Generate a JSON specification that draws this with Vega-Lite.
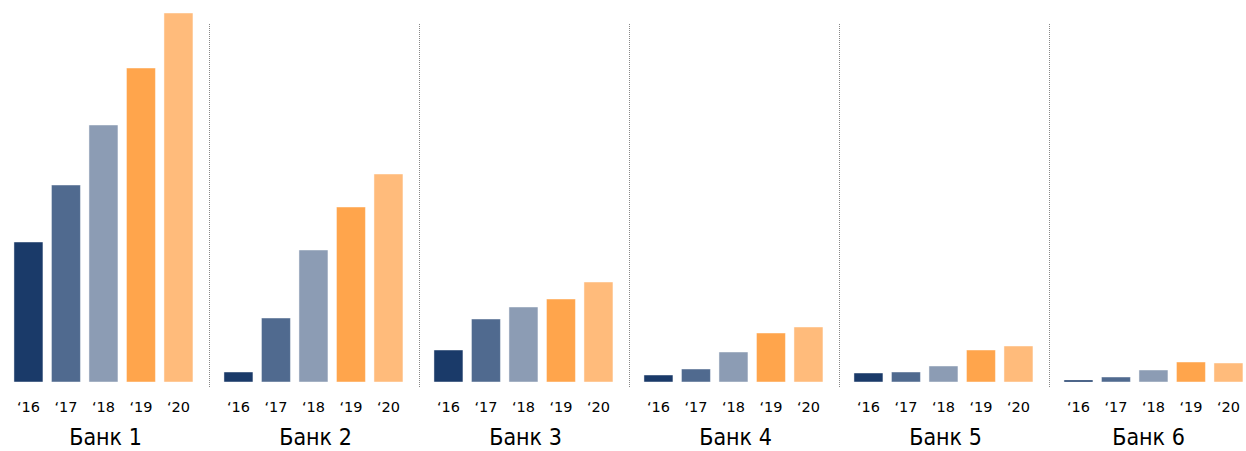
{
  "$schema": "https://vega.github.io/schema/vega-lite/v6.json",
  "padding": 0,
  "background": "white",
  "spacing": 0,
  "bounds": "flush",
  "data": {"values": [
    {"bank": "Банк 1", "year": "‘16", "value": 140},
    {"bank": "Банк 1", "year": "‘17", "value": 197},
    {"bank": "Банк 1", "year": "‘18", "value": 257},
    {"bank": "Банк 1", "year": "‘19", "value": 314},
    {"bank": "Банк 1", "year": "‘20", "value": 369},
    {"bank": "Банк 2", "year": "‘16", "value": 10},
    {"bank": "Банк 2", "year": "‘17", "value": 64},
    {"bank": "Банк 2", "year": "‘18", "value": 132},
    {"bank": "Банк 2", "year": "‘19", "value": 175},
    {"bank": "Банк 2", "year": "‘20", "value": 208},
    {"bank": "Банк 3", "year": "‘16", "value": 32},
    {"bank": "Банк 3", "year": "‘17", "value": 63},
    {"bank": "Банк 3", "year": "‘18", "value": 75},
    {"bank": "Банк 3", "year": "‘19", "value": 83},
    {"bank": "Банк 3", "year": "‘20", "value": 100},
    {"bank": "Банк 4", "year": "‘16", "value": 7},
    {"bank": "Банк 4", "year": "‘17", "value": 13},
    {"bank": "Банк 4", "year": "‘18", "value": 30},
    {"bank": "Банк 4", "year": "‘19", "value": 49},
    {"bank": "Банк 4", "year": "‘20", "value": 55},
    {"bank": "Банк 5", "year": "‘16", "value": 9},
    {"bank": "Банк 5", "year": "‘17", "value": 10},
    {"bank": "Банк 5", "year": "‘18", "value": 16},
    {"bank": "Банк 5", "year": "‘19", "value": 32},
    {"bank": "Банк 5", "year": "‘20", "value": 36},
    {"bank": "Банк 6", "year": "‘16", "value": 2},
    {"bank": "Банк 6", "year": "‘17", "value": 5},
    {"bank": "Банк 6", "year": "‘18", "value": 12},
    {"bank": "Банк 6", "year": "‘19", "value": 20},
    {"bank": "Банк 6", "year": "‘20", "value": 19}
  ]},
  "hconcat": [
    {
      "width": 210, "height": 382,
      "layer": [
        {
          "transform": [{"filter": "datum.bank == 'Банк 1'"}],
          "mark": {"type": "bar", "stroke": "white", "strokeOpacity": 0.45, "strokeWidth": 1},
          "encoding": {
            "x": {"field": "year", "type": "nominal", "sort": null, "title": "Банк 1",
                  "scale": {"paddingInner": 0.227, "paddingOuter": 0.4133, "align": 0.45}},
            "y": {"field": "value", "type": "quantitative", "axis": null, "scale": {"domain": [0, 382], "nice": false}},
            "color": {"field": "year", "type": "nominal", "legend": null,
                      "scale": {"domain": ["‘16", "‘17", "‘18", "‘19", "‘20"], "range": ["#1a3a69", "#506a8f", "#8c9cb4", "#ffa54c", "#ffbb7b"]}}
          }
        },
        {
          "data": {"values": [{"sep": 1}]},
          "mark": {"type": "rule", "color": "#888888", "strokeWidth": 1, "strokeDash": [1, 1], "xOffset": -0.5},
          "encoding": {"x": {"value": "width"}, "y": {"datum": 358, "type": "quantitative"}, "y2": {"datum": -6}}
        }
      ]
    },
    {
      "width": 210, "height": 382,
      "layer": [
        {
          "transform": [{"filter": "datum.bank == 'Банк 2'"}],
          "mark": {"type": "bar", "stroke": "white", "strokeOpacity": 0.45, "strokeWidth": 1},
          "encoding": {
            "x": {"field": "year", "type": "nominal", "sort": null, "title": "Банк 2",
                  "scale": {"paddingInner": 0.227, "paddingOuter": 0.4133, "align": 0.45}},
            "y": {"field": "value", "type": "quantitative", "axis": null, "scale": {"domain": [0, 382], "nice": false}},
            "color": {"field": "year", "type": "nominal", "legend": null,
                      "scale": {"domain": ["‘16", "‘17", "‘18", "‘19", "‘20"], "range": ["#1a3a69", "#506a8f", "#8c9cb4", "#ffa54c", "#ffbb7b"]}}
          }
        },
        {
          "data": {"values": [{"sep": 1}]},
          "mark": {"type": "rule", "color": "#888888", "strokeWidth": 1, "strokeDash": [1, 1], "xOffset": -0.5},
          "encoding": {"x": {"value": "width"}, "y": {"datum": 358, "type": "quantitative"}, "y2": {"datum": -6}}
        }
      ]
    },
    {
      "width": 210, "height": 382,
      "layer": [
        {
          "transform": [{"filter": "datum.bank == 'Банк 3'"}],
          "mark": {"type": "bar", "stroke": "white", "strokeOpacity": 0.45, "strokeWidth": 1},
          "encoding": {
            "x": {"field": "year", "type": "nominal", "sort": null, "title": "Банк 3",
                  "scale": {"paddingInner": 0.227, "paddingOuter": 0.4133, "align": 0.45}},
            "y": {"field": "value", "type": "quantitative", "axis": null, "scale": {"domain": [0, 382], "nice": false}},
            "color": {"field": "year", "type": "nominal", "legend": null,
                      "scale": {"domain": ["‘16", "‘17", "‘18", "‘19", "‘20"], "range": ["#1a3a69", "#506a8f", "#8c9cb4", "#ffa54c", "#ffbb7b"]}}
          }
        },
        {
          "data": {"values": [{"sep": 1}]},
          "mark": {"type": "rule", "color": "#888888", "strokeWidth": 1, "strokeDash": [1, 1], "xOffset": -0.5},
          "encoding": {"x": {"value": "width"}, "y": {"datum": 358, "type": "quantitative"}, "y2": {"datum": -6}}
        }
      ]
    },
    {
      "width": 210, "height": 382,
      "layer": [
        {
          "transform": [{"filter": "datum.bank == 'Банк 4'"}],
          "mark": {"type": "bar", "stroke": "white", "strokeOpacity": 0.45, "strokeWidth": 1},
          "encoding": {
            "x": {"field": "year", "type": "nominal", "sort": null, "title": "Банк 4",
                  "scale": {"paddingInner": 0.227, "paddingOuter": 0.4133, "align": 0.45}},
            "y": {"field": "value", "type": "quantitative", "axis": null, "scale": {"domain": [0, 382], "nice": false}},
            "color": {"field": "year", "type": "nominal", "legend": null,
                      "scale": {"domain": ["‘16", "‘17", "‘18", "‘19", "‘20"], "range": ["#1a3a69", "#506a8f", "#8c9cb4", "#ffa54c", "#ffbb7b"]}}
          }
        },
        {
          "data": {"values": [{"sep": 1}]},
          "mark": {"type": "rule", "color": "#888888", "strokeWidth": 1, "strokeDash": [1, 1], "xOffset": -0.5},
          "encoding": {"x": {"value": "width"}, "y": {"datum": 358, "type": "quantitative"}, "y2": {"datum": -6}}
        }
      ]
    },
    {
      "width": 210, "height": 382,
      "layer": [
        {
          "transform": [{"filter": "datum.bank == 'Банк 5'"}],
          "mark": {"type": "bar", "stroke": "white", "strokeOpacity": 0.45, "strokeWidth": 1},
          "encoding": {
            "x": {"field": "year", "type": "nominal", "sort": null, "title": "Банк 5",
                  "scale": {"paddingInner": 0.227, "paddingOuter": 0.4133, "align": 0.45}},
            "y": {"field": "value", "type": "quantitative", "axis": null, "scale": {"domain": [0, 382], "nice": false}},
            "color": {"field": "year", "type": "nominal", "legend": null,
                      "scale": {"domain": ["‘16", "‘17", "‘18", "‘19", "‘20"], "range": ["#1a3a69", "#506a8f", "#8c9cb4", "#ffa54c", "#ffbb7b"]}}
          }
        },
        {
          "data": {"values": [{"sep": 1}]},
          "mark": {"type": "rule", "color": "#888888", "strokeWidth": 1, "strokeDash": [1, 1], "xOffset": -0.5},
          "encoding": {"x": {"value": "width"}, "y": {"datum": 358, "type": "quantitative"}, "y2": {"datum": -6}}
        }
      ]
    },
    {
      "width": 196, "height": 382,
      "transform": [{"filter": "datum.bank == 'Банк 6'"}],
      "mark": {"type": "bar", "stroke": "white", "strokeOpacity": 0.45, "strokeWidth": 1},
      "encoding": {
        "x": {"field": "year", "type": "nominal", "sort": null, "title": "Банк 6",
              "scale": {"paddingInner": 0.227, "paddingOuter": 0.227, "align": 0.82}},
        "y": {"field": "value", "type": "quantitative", "axis": null, "scale": {"domain": [0, 382], "nice": false}},
        "color": {"field": "year", "type": "nominal", "legend": null,
                  "scale": {"domain": ["‘16", "‘17", "‘18", "‘19", "‘20"], "range": ["#1a3a69", "#506a8f", "#8c9cb4", "#ffa54c", "#ffbb7b"]}}
      }
    }
  ],
  "config": {
    "view": {"stroke": null},
    "font": "DejaVu Sans",
    "axisX": {
      "domain": false, "ticks": false, "tickSize": 0, "grid": false,
      "labelAngle": 0, "labelPadding": 18, "labelFontSize": 14.5, "labelColor": "#000000",
      "labelFont": "DejaVu Sans",
      "titleFont": "DejaVu Sans Condensed",
      "titleFontSize": 23, "titleFontWeight": "normal", "titleColor": "#000000", "titlePadding": 13
    }
  }
}
